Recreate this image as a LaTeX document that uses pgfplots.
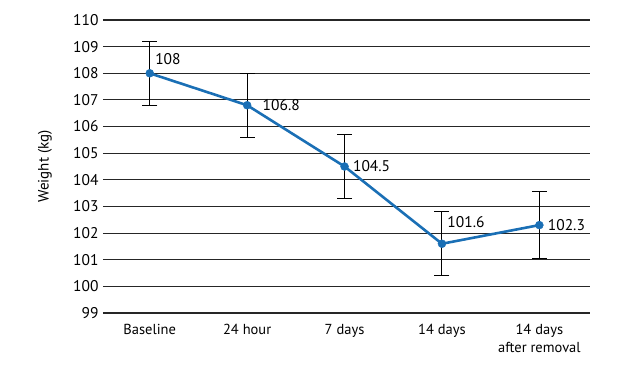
\documentclass[border=0pt]{standalone}
\usepackage{pgfplots}
\pgfplotsset{compat=1.18}
\usepackage{fontspec}
\setmainfont{PT Sans}
\definecolor{lineblue}{HTML}{1A6FB5}
\begin{document}
\begin{tikzpicture}[x=1pt,y=1pt]
\useasboundingbox (0,0) rectangle (640,370);
\begin{axis}[
  at={(103pt,57pt)}, anchor=south west,
  scale only axis, width=487pt, height=293pt,
  xmin=-0.48, xmax=4.52, ymin=99, ymax=110,
  ytick={99,...,110},
  xtick={0,1,2,3,4},
  xticklabels={Baseline,24 hour,7 days,14 days,{14 days\\after removal}},
  xticklabel style={align=center, font=\fontsize{14.5}{18}\selectfont, yshift=-8pt, anchor=north},
  yticklabel style={font=\fontsize{15.5}{17}\selectfont, xshift=-1pt},
  /pgf/number format/assume math mode=true,
  axis line style={draw=none},
  tick style={draw=none},
  ymajorgrids,
  major grid style={draw=black!85, line width=1.1pt},
  ylabel={Weight (kg)},
  ylabel style={font=\fontsize{15}{17}\selectfont, at={(axis description cs:-0.119,0.5)}, anchor=center},
  clip=false,
]
\addplot[lineblue, line width=2.6pt, mark=*, mark size=4pt, mark options={fill=lineblue, draw=lineblue, line width=0.4pt},
  error bars/.cd, y dir=both, y explicit, error bar style={black, line width=1pt},
  error mark options={rotate=90, mark size=7.5pt, black, line width=1pt}]
  coordinates {
  (0,108) +- (0,1.2)
  (1,106.8) +- (0,1.2)
  (2,104.5) +- (0,1.2)
  (3,101.6) +- (0,1.2)
  (4,102.3) +- (0,1.25)
  };
\node[anchor=west, font=\fontsize{15.5}{17}\selectfont] at (axis cs:0,108) [xshift=2pt, yshift=14pt] {108};
\node[anchor=west, font=\fontsize{15.5}{17}\selectfont] at (axis cs:1,106.8) [xshift=12pt] {106.8};
\node[anchor=west, font=\fontsize{15.5}{17}\selectfont] at (axis cs:2,104.5) [xshift=5pt] {104.5};
\node[anchor=west, font=\fontsize{15.5}{17}\selectfont] at (axis cs:3,101.6) [xshift=2pt, yshift=22pt] {101.6};
\node[anchor=west, font=\fontsize{15.5}{17}\selectfont] at (axis cs:4,102.3) [xshift=5pt] {102.3};
\end{axis}
\end{tikzpicture}
\end{document}
